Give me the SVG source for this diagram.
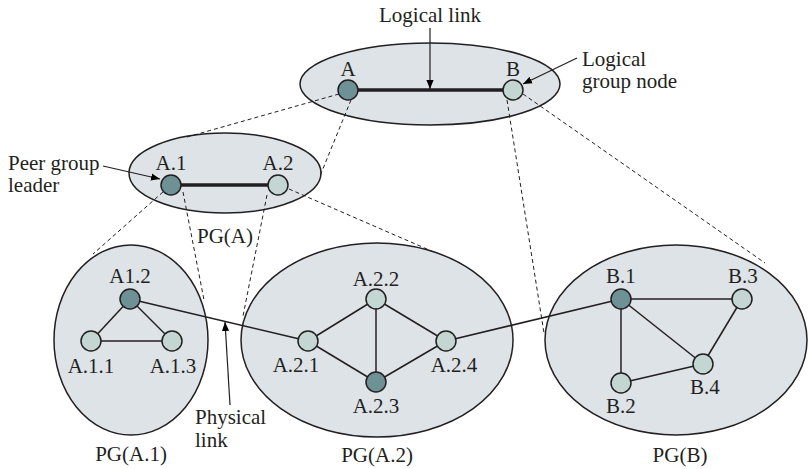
<svg xmlns="http://www.w3.org/2000/svg" width="809" height="469" viewBox="0 0 809 469">
<defs>
<marker id="arr" viewBox="0 0 10 10" refX="10" refY="5" markerWidth="9" markerHeight="9" markerUnits="userSpaceOnUse" orient="auto">
<path d="M0,1 L10,5 L0,9 z" fill="#000"/>
</marker>
<style>
text{font-family:'Liberation Serif','DejaVu Serif',serif;font-size:21px;fill:#231f20}
.m{text-anchor:middle}
.grp{fill:#dde3e7;stroke:#231f20;stroke-width:1.5}
.dk{fill:#6e9195;stroke:#231f20;stroke-width:1.5}
.lt{fill:#c3d6d2;stroke:#231f20;stroke-width:1.5}
.dash{stroke:#231f20;stroke-width:1;stroke-dasharray:4 3;fill:none}
.phy{stroke:#231f20;stroke-width:1.5;fill:none}
.log{stroke:#231f20;stroke-width:3.5;fill:none}
.ptr{stroke:#231f20;stroke-width:1.2;fill:none;marker-end:url(#arr)}
</style>
</defs>
<rect width="809" height="469" fill="#fff"/>

<g id="groups">
<g id="pg-top"><ellipse class="grp" cx="430" cy="84" rx="130" ry="41"/></g>
<g id="pg-A"><ellipse class="grp" cx="225" cy="173" rx="96" ry="40"/><text class="m" x="225" y="243">PG(A)</text></g>
<g id="pg-A1"><ellipse class="grp" cx="131" cy="340" rx="77" ry="95"/><text class="m" x="131" y="461">PG(A.1)</text></g>
<g id="pg-A2"><ellipse class="grp" cx="377" cy="340" rx="136" ry="97"/><text class="m" x="377" y="462">PG(A.2)</text></g>
<g id="pg-B"><ellipse class="grp" cx="676" cy="340" rx="131" ry="95"/><text class="m" x="680" y="462">PG(B)</text></g>
</g>

<g id="connectors">
<line class="dash" x1="339" y1="94" x2="187" y2="137"/>
<line class="dash" x1="351" y1="100" x2="320" y2="176"/>
<line class="dash" x1="507" y1="100" x2="544" y2="333"/>
<line class="dash" x1="523" y1="94" x2="765" y2="263"/>
<line class="dash" x1="163" y1="192" x2="93" y2="254"/>
<line class="dash" x1="183" y1="192" x2="204" y2="300"/>
<line class="dash" x1="267" y1="195" x2="243" y2="316"/>
<line class="dash" x1="289" y1="189" x2="436" y2="253"/>

<line class="log" x1="348" y1="90" x2="513" y2="90"/>
<line class="log" x1="171" y1="185" x2="278" y2="185"/>

<line class="phy" x1="130" y1="299" x2="91" y2="341"/>
<line class="phy" x1="130" y1="299" x2="172" y2="341"/>
<line class="phy" x1="91" y1="341" x2="172" y2="341"/>
<line class="phy" x1="130" y1="299" x2="308" y2="341"/>
<line class="phy" x1="308" y1="341" x2="376" y2="299"/>
<line class="phy" x1="308" y1="341" x2="376" y2="382"/>
<line class="phy" x1="376" y1="299" x2="376" y2="382"/>
<line class="phy" x1="376" y1="299" x2="446" y2="341"/>
<line class="phy" x1="376" y1="382" x2="446" y2="341"/>
<line class="phy" x1="446" y1="341" x2="621" y2="299"/>
<line class="phy" x1="621" y1="299" x2="742" y2="299"/>
<line class="phy" x1="621" y1="299" x2="621" y2="383"/>
<line class="phy" x1="621" y1="299" x2="703" y2="364"/>
<line class="phy" x1="742" y1="299" x2="703" y2="364"/>
<line class="phy" x1="621" y1="383" x2="703" y2="364"/>

<line class="ptr" x1="430" y1="28" x2="430" y2="89"/>
<line class="ptr" x1="577" y1="58" x2="523" y2="84"/>
<line class="ptr" x1="103" y1="166" x2="160" y2="179"/>
<line class="ptr" x1="230" y1="405" x2="225" y2="322"/>
</g>

<g id="node-A"><circle class="dk" cx="348" cy="90" r="10"/><text class="m" x="348" y="76">A</text></g>
<g id="node-B"><circle class="lt" cx="513" cy="90" r="10"/><text class="m" x="513" y="76">B</text></g>
<g id="node-A.1"><circle class="dk" cx="171" cy="185" r="10"/><text class="m" x="171" y="170">A.1</text></g>
<g id="node-A.2"><circle class="lt" cx="278" cy="185" r="10"/><text class="m" x="278" y="170">A.2</text></g>
<g id="node-A1.2"><circle class="dk" cx="130" cy="299" r="10"/><text class="m" x="130" y="283">A1.2</text></g>
<g id="node-A.1.1"><circle class="lt" cx="91" cy="341" r="10"/><text class="m" x="91" y="373">A.1.1</text></g>
<g id="node-A.1.3"><circle class="lt" cx="172" cy="341" r="10"/><text class="m" x="173" y="373">A.1.3</text></g>
<g id="node-A.2.1"><circle class="lt" cx="308" cy="341" r="10"/><text class="m" x="296" y="372">A.2.1</text></g>
<g id="node-A.2.2"><circle class="lt" cx="376" cy="299" r="10"/><text class="m" x="376" y="286">A.2.2</text></g>
<g id="node-A.2.3"><circle class="dk" cx="376" cy="382" r="10"/><text class="m" x="376" y="413">A.2.3</text></g>
<g id="node-A.2.4"><circle class="lt" cx="446" cy="341" r="10"/><text class="m" x="454" y="372">A.2.4</text></g>
<g id="node-B.1"><circle class="dk" cx="621" cy="299" r="10"/><text class="m" x="621" y="283">B.1</text></g>
<g id="node-B.2"><circle class="lt" cx="621" cy="383" r="10"/><text class="m" x="621" y="413">B.2</text></g>
<g id="node-B.3"><circle class="lt" cx="742" cy="299" r="10"/><text class="m" x="743" y="283">B.3</text></g>
<g id="node-B.4"><circle class="lt" cx="703" cy="364" r="10"/><text class="m" x="705" y="394">B.4</text></g>

<g id="labels">
<text class="m" x="430" y="22">Logical link</text>
<text x="582" y="66">Logical</text>
<text x="582" y="88">group node</text>
<text x="8" y="170">Peer group</text>
<text x="8" y="192">leader</text>
<text x="195" y="424">Physical</text>
<text x="195" y="447">link</text>
</g>
</svg>
